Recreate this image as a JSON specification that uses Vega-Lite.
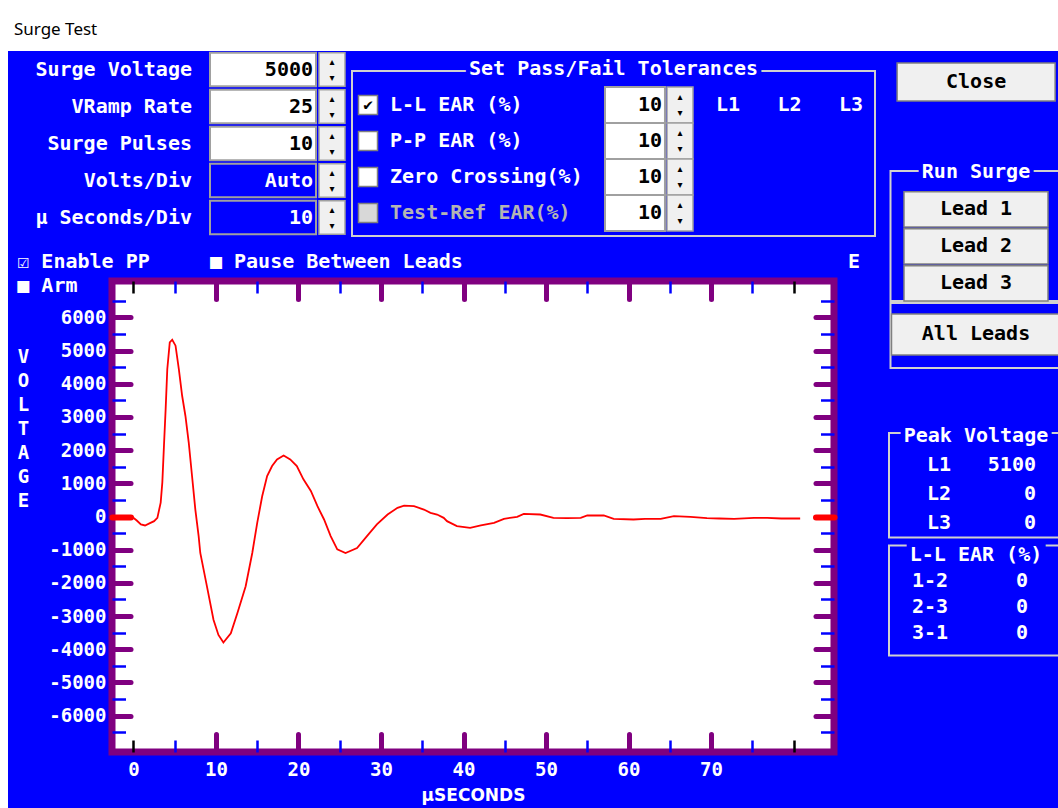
{
  "$schema": "https://vega.github.io/schema/vega-lite/v6.json",
  "background": "#0000FF",
  "padding": 0,
  "config": {
    "view": {"stroke": null},
    "axis": {"grid": false, "domain": false},
    "text": {"font": "DejaVu Sans Mono", "fontWeight": "bold", "fontSize": 20, "baseline": "middle"},
    "title": {"font": "DejaVu Sans Mono", "fontWeight": "bold", "fontSize": 20, "color": "white"}
  },
  "datasets": {
    "wave": [
      {"t": -0.2, "v": 0}, {"t": 0.4, "v": -120}, {"t": 0.9, "v": -240}, {"t": 1.4, "v": -270},
      {"t": 2.0, "v": -200}, {"t": 2.5, "v": -140}, {"t": 2.9, "v": -40}, {"t": 3.3, "v": 420},
      {"t": 3.5, "v": 1030}, {"t": 3.7, "v": 2150}, {"t": 3.9, "v": 3230}, {"t": 4.1, "v": 4440},
      {"t": 4.4, "v": 5250}, {"t": 4.7, "v": 5330}, {"t": 5.1, "v": 5150}, {"t": 5.5, "v": 4440},
      {"t": 5.9, "v": 3640}, {"t": 6.3, "v": 3030}, {"t": 6.7, "v": 2230}, {"t": 7.1, "v": 1220},
      {"t": 7.5, "v": 210}, {"t": 7.9, "v": -590}, {"t": 8.1, "v": -1100}, {"t": 8.9, "v": -2100},
      {"t": 9.7, "v": -3110}, {"t": 10.3, "v": -3570}, {"t": 10.9, "v": -3800}, {"t": 11.8, "v": -3520},
      {"t": 12.6, "v": -2910}, {"t": 13.6, "v": -2100}, {"t": 14.4, "v": -1100}, {"t": 15.0, "v": -190},
      {"t": 15.6, "v": 610}, {"t": 16.2, "v": 1220}, {"t": 16.8, "v": 1520}, {"t": 17.4, "v": 1720},
      {"t": 18.2, "v": 1840}, {"t": 19.0, "v": 1720}, {"t": 19.8, "v": 1520}, {"t": 20.6, "v": 1120},
      {"t": 21.5, "v": 770}, {"t": 22.3, "v": 310}, {"t": 23.1, "v": -90}, {"t": 23.9, "v": -590},
      {"t": 24.7, "v": -990}, {"t": 25.7, "v": -1100}, {"t": 27.1, "v": -950}, {"t": 28.3, "v": -590},
      {"t": 29.5, "v": -240}, {"t": 30.8, "v": 60}, {"t": 32.0, "v": 260}, {"t": 32.8, "v": 330},
      {"t": 34.0, "v": 310}, {"t": 35.2, "v": 210}, {"t": 36.0, "v": 110}, {"t": 36.8, "v": 60},
      {"t": 37.6, "v": -40}, {"t": 38.0, "v": -140}, {"t": 39.2, "v": -290}, {"t": 40.8, "v": -340},
      {"t": 42.1, "v": -270}, {"t": 43.7, "v": -190}, {"t": 44.9, "v": -70}, {"t": 46.5, "v": -10},
      {"t": 47.3, "v": 80}, {"t": 49.3, "v": 60}, {"t": 50.9, "v": -40}, {"t": 52.5, "v": -50},
      {"t": 54.2, "v": -40}, {"t": 55.0, "v": 30}, {"t": 57.0, "v": 30}, {"t": 58.2, "v": -70},
      {"t": 60.6, "v": -90}, {"t": 62.0, "v": -70}, {"t": 63.9, "v": -70}, {"t": 65.5, "v": 10},
      {"t": 67.5, "v": -10}, {"t": 69.5, "v": -50}, {"t": 71.0, "v": -60}, {"t": 72.8, "v": -70},
      {"t": 75.2, "v": -40}, {"t": 76.8, "v": -40}, {"t": 78.5, "v": -60}, {"t": 80.8, "v": -60}
    ],
    "settings": [
      {"param": "Surge Voltage", "value": "5000", "mode": "manual"},
      {"param": "VRamp Rate", "value": "25", "mode": "manual"},
      {"param": "Surge Pulses", "value": "10", "mode": "manual"},
      {"param": "Volts/Div", "value": "Auto", "mode": "auto"},
      {"param": "µ Seconds/Div", "value": "10", "mode": "auto"}
    ],
    "tol": [
      {"row": "L-L EAR (%)", "checked": true, "enabled": true, "tol": "10"},
      {"row": "P-P EAR (%)", "checked": false, "enabled": true, "tol": "10"},
      {"row": "Zero Crossing(%)", "checked": false, "enabled": true, "tol": "10"},
      {"row": "Test-Ref EAR(%)", "checked": false, "enabled": false, "tol": "10"}
    ],
    "leads": [{"lead": "L1"}, {"lead": "L2"}, {"lead": "L3"}],
    "surge": [
      {"item": "Run Surge", "kind": "title"},
      {"item": "Lead 1", "kind": "button"},
      {"item": "Lead 2", "kind": "button"},
      {"item": "Lead 3", "kind": "button"}
    ],
    "peak": [
      {"row": "Peak Voltage", "kind": "title", "val": ""},
      {"row": "L1", "kind": "item", "val": "5100"},
      {"row": "L2", "kind": "item", "val": "0"},
      {"row": "L3", "kind": "item", "val": "0"}
    ],
    "ear": [
      {"row": "L-L EAR (%)", "kind": "title", "val": ""},
      {"row": "1-2", "kind": "item", "val": "0"},
      {"row": "2-3", "kind": "item", "val": "0"},
      {"row": "3-1", "kind": "item", "val": "0"}
    ]
  },
  "spacing": 0,
  "vconcat": [
    {
      "width": 1058, "height": 51,
      "view": {"fill": "white", "stroke": null},
      "data": {"values": [{"t": "Surge Test"}]},
      "mark": {"type": "text", "align": "left", "baseline": "middle", "font": "Noto Sans", "fontWeight": "normal", "fontSize": 17, "color": "black", "dy": 4},
      "encoding": {
        "text": {"field": "t"},
        "x": {"field": "t", "type": "nominal", "axis": null, "scale": {"type": "point", "align": 0.0132}}
      }
    },
    {
      "spacing": 4,
      "hconcat": [
        {
          "width": 8, "height": 757,
          "view": {"fill": "white", "stroke": null},
          "data": {"values": []},
          "mark": {"type": "rect", "fill": "white"}
        },
        {
          "spacing": 12,
          "hconcat": [
            {
              "spacing": 11,
              "vconcat": [
                {
                  "spacing": 5,
                  "hconcat": [
                    {
                      "spacing": 17,
                      "hconcat": [
                        {
                          "width": 180, "height": 185,
                          "data": {"name": "settings"},
                          "mark": {"type": "text", "align": "right", "color": "white"},
                          "encoding": {
                            "y": {"field": "param", "type": "nominal", "sort": null, "axis": null, "scale": {"type": "band", "paddingInner": 0.1, "paddingOuter": 0.05}},
                            "x": {"datum": "c", "type": "nominal", "axis": null, "scale": {"type": "point", "align": 1}},
                            "text": {"field": "param"}
                          }
                        },
                        {
                          "spacing": 1,
                          "hconcat": [
                            {
                              "width": 106, "height": 185,
                              "data": {"name": "settings"},
                              "encoding": {
                                "y": {"field": "param", "type": "nominal", "sort": null, "axis": null, "scale": {"type": "band", "paddingInner": 0.1, "paddingOuter": 0.05}}
                              },
                              "layer": [
                                {
                                  "mark": {"type": "rect", "stroke": "#A0A0A0", "strokeWidth": 2},
                                  "encoding": {"fill": {"condition": {"test": "datum.mode === 'auto'", "value": "#0000FF"}, "value": "white"}}
                                },
                                {
                                  "mark": {"type": "text", "align": "right"},
                                  "encoding": {
                                    "x": {"datum": "c", "type": "nominal", "axis": null, "scale": {"type": "point", "align": 0.972}},
                                    "text": {"field": "value"},
                                    "color": {"condition": {"test": "datum.mode === 'auto'", "value": "white"}, "value": "black"}
                                  }
                                }
                              ]
                            },
                            {
                              "width": 26, "height": 185,
                              "data": {"name": "settings"},
                              "encoding": {
                                "y": {"field": "param", "type": "nominal", "sort": null, "axis": null, "scale": {"type": "band", "paddingInner": 0.1, "paddingOuter": 0.05}}
                              },
                              "layer": [
                                {"mark": {"type": "rect", "fill": "#F0F0F0", "stroke": "#A0A0A0", "strokeWidth": 1.5}},
                                {"mark": {"type": "text", "text": "▴", "font": "DejaVu Sans", "fontSize": 10, "color": "black", "dy": -8}},
                                {"mark": {"type": "text", "text": "▾", "font": "DejaVu Sans", "fontSize": 10, "color": "black", "dy": 8}}
                              ]
                            }
                          ]
                        }
                      ]
                    },
                    {
                      "width": 523, "height": 185,
                      "data": {"name": "tol"},
                      "encoding": {
                        "y": {"field": "row", "type": "nominal", "axis": null,
                          "scale": {"type": "band", "domain": ["Set Pass/Fail Tolerances", "L-L EAR (%)", "P-P EAR (%)", "Zero Crossing(%)", "Test-Ref EAR(%)"], "paddingInner": 0, "paddingOuter": 0.069, "align": 0}}
                      },
                      "layer": [
                        {
                          "data": {"values": [{"frame": "tolerances"}]},
                          "mark": {"type": "rect", "fillOpacity": 0, "stroke": "#D0D0D0", "strokeWidth": 2},
                          "encoding": {"y": {"field": "frame", "type": "nominal", "axis": null, "scale": {"type": "band", "paddingInner": 0, "paddingOuter": 0.0606, "align": 1}}}
                        },
                        {
                          "data": {"values": [{"row": "Set Pass/Fail Tolerances"}]},
                          "mark": {"type": "text", "text": "████████████████████████", "color": "#0000FF", "stroke": "#0000FF", "strokeWidth": 6}
                        },
                        {
                          "data": {"values": [{"row": "Set Pass/Fail Tolerances"}]},
                          "mark": {"type": "text", "color": "white"},
                          "encoding": {"text": {"field": "row"}}
                        },
                        {
                          "mark": {"type": "point", "shape": "square", "size": 361, "filled": true, "stroke": "#808080", "strokeWidth": 1.5, "opacity": 1},
                          "encoding": {
                            "x": {"datum": "box", "type": "nominal", "axis": null, "scale": {"type": "point", "align": 0.0306}},
                            "fill": {"condition": {"test": "datum.enabled", "value": "white"}, "value": "#D8D8D8"}
                          }
                        },
                        {
                          "transform": [{"filter": "datum.checked"}],
                          "mark": {"type": "text", "text": "✔", "fontSize": 16, "color": "black"},
                          "encoding": {
                            "x": {"datum": "box", "type": "nominal", "axis": null, "scale": {"type": "point", "align": 0.0306}}
                          }
                        },
                        {
                          "mark": {"type": "text", "align": "left"},
                          "encoding": {
                            "x": {"datum": "lab", "type": "nominal", "axis": null, "scale": {"type": "point", "align": 0.0727}},
                            "text": {"field": "row"},
                            "color": {"condition": {"test": "datum.enabled", "value": "white"}, "value": "#B4B4B4"}
                          }
                        },
                        {
                          "mark": {"type": "rect", "fill": "white", "stroke": "#A0A0A0", "strokeWidth": 2},
                          "encoding": {
                            "x": {"datum": "box", "type": "nominal", "axis": null, "scale": {"type": "band", "paddingInner": 0.741, "paddingOuter": 1, "align": 0.5464}}
                          }
                        },
                        {
                          "mark": {"type": "rect", "fill": "#F0F0F0", "stroke": "#A0A0A0", "strokeWidth": 1.5},
                          "encoding": {
                            "x": {"datum": "spin", "type": "nominal", "axis": null, "scale": {"type": "band", "paddingInner": 0.8954, "paddingOuter": 1, "align": 0.6338}}
                          }
                        },
                        {
                          "mark": {"type": "text", "text": "▴", "font": "DejaVu Sans", "fontSize": 10, "color": "black", "dy": -8},
                          "encoding": {
                            "x": {"datum": "spin", "type": "nominal", "axis": null, "scale": {"type": "point", "align": 0.627}}
                          }
                        },
                        {
                          "mark": {"type": "text", "text": "▾", "font": "DejaVu Sans", "fontSize": 10, "color": "black", "dy": 8},
                          "encoding": {
                            "x": {"datum": "spin", "type": "nominal", "axis": null, "scale": {"type": "point", "align": 0.627}}
                          }
                        },
                        {
                          "mark": {"type": "text", "align": "right", "color": "black"},
                          "encoding": {
                            "x": {"datum": "val", "type": "nominal", "axis": null, "scale": {"type": "point", "align": 0.5927}},
                            "text": {"field": "tol"}
                          }
                        },
                        {
                          "data": {"name": "leads"},
                          "transform": [{"filter": "datum.lead === 'L1'"}],
                          "mark": {"type": "text", "color": "white"},
                          "encoding": {
                            "x": {"field": "lead", "type": "nominal", "axis": null, "scale": {"type": "point", "align": 0.719}},
                            "y": {"datum": "L-L EAR (%)", "type": "nominal", "axis": null, "scale": {"type": "band", "domain": ["Set Pass/Fail Tolerances", "L-L EAR (%)", "P-P EAR (%)", "Zero Crossing(%)", "Test-Ref EAR(%)"], "paddingInner": 0, "paddingOuter": 0.069, "align": 0}},
                            "text": {"field": "lead"}
                          }
                        },
                        {
                          "data": {"name": "leads"},
                          "transform": [{"filter": "datum.lead === 'L2'"}],
                          "mark": {"type": "text", "color": "white"},
                          "encoding": {
                            "x": {"field": "lead", "type": "nominal", "axis": null, "scale": {"type": "point", "align": 0.8365}},
                            "y": {"datum": "L-L EAR (%)", "type": "nominal", "axis": null, "scale": {"type": "band", "domain": ["Set Pass/Fail Tolerances", "L-L EAR (%)", "P-P EAR (%)", "Zero Crossing(%)", "Test-Ref EAR(%)"], "paddingInner": 0, "paddingOuter": 0.069, "align": 0}},
                            "text": {"field": "lead"}
                          }
                        },
                        {
                          "data": {"name": "leads"},
                          "transform": [{"filter": "datum.lead === 'L3'"}],
                          "mark": {"type": "text", "color": "white"},
                          "encoding": {
                            "x": {"field": "lead", "type": "nominal", "axis": null, "scale": {"type": "point", "align": 0.954}},
                            "y": {"datum": "L-L EAR (%)", "type": "nominal", "axis": null, "scale": {"type": "band", "domain": ["Set Pass/Fail Tolerances", "L-L EAR (%)", "P-P EAR (%)", "Zero Crossing(%)", "Test-Ref EAR(%)"], "paddingInner": 0, "paddingOuter": 0.069, "align": 0}},
                            "text": {"field": "lead"}
                          }
                        }
                      ],
                      "resolve": {"scale": {"x": "independent", "y": "independent"}}
                    }
                  ]
                },
                {
                  "spacing": 0,
                  "hconcat": [
                    {
                      "width": 1, "height": 1,
                      "data": {"values": []},
                      "mark": {"type": "rect", "fill": "#0000FF"}
                    },
                    {
                      "width": 722, "height": 471,
                      "view": {"fill": "white", "stroke": "#800080", "strokeWidth": 7},
                      "title": {
                        "text": ["☑ Enable PP\u00a0\u00a0\u00a0\u00a0\u00a0■ Pause Between Leads\u00a0\u00a0\u00a0\u00a0\u00a0\u00a0\u00a0\u00a0\u00a0\u00a0\u00a0\u00a0\u00a0\u00a0\u00a0\u00a0\u00a0\u00a0\u00a0\u00a0\u00a0\u00a0\u00a0\u00a0\u00a0\u00a0\u00a0\u00a0\u00a0\u00a0\u00a0\u00a0E", "■ Arm"],
                        "anchor": "start", "frame": "bounds", "offset": -17, "lineHeight": 24,
                        "font": "DejaVu Sans Mono", "fontSize": 20, "fontWeight": "bold", "color": "white"
                      },
                      "data": {"name": "wave"},
                      "layer": [
                        {
                          "mark": {"type": "line", "color": "#FF0000", "strokeWidth": 1.8},
                          "encoding": {
                            "x": {"field": "t", "type": "quantitative", "scale": {"domain": [-2.6, 84.9], "nice": false, "zero": false},
                              "axis": {"orient": "bottom", "values": [0, 10, 20, 30, 40, 50, 60, 70], "ticks": false, "domain": false, "labelPadding": 8, "labelFlush": false, "labelOverlap": false,
                                "labelFont": "DejaVu Sans Mono", "labelFontWeight": "bold", "labelFontSize": 19, "labelColor": "white", "labelExpr": "'' + datum.value", "labelBaseline": "top",
                                "title": "µSECONDS", "titleFont": "DejaVu Sans", "titleFontWeight": "bold", "titleFontSize": 17, "titleColor": "white", "titleBaseline": "top", "titleY": 35}},
                            "y": {"field": "v", "type": "quantitative", "scale": {"domain": [-7100, 7100], "nice": false, "zero": false},
                              "axis": {"orient": "left", "values": [-6000, -5000, -4000, -3000, -2000, -1000, 0, 1000, 2000, 3000, 4000, 5000, 6000], "ticks": false, "domain": false, "labelPadding": 6, "labelFlush": false, "labelOverlap": false,
                                "labelFont": "DejaVu Sans Mono", "labelFontWeight": "bold", "labelFontSize": 19, "labelColor": "white", "labelExpr": "'' + datum.value",
                                "title": ["V", "O", "L", "T", "A", "G", "E"], "titleAngle": 0, "titleAlign": "center", "titleBaseline": "top", "titleX": -89, "titleY": 66, "titleLineHeight": 24,
                                "titleFont": "DejaVu Sans Mono", "titleFontWeight": "bold", "titleFontSize": 19, "titleColor": "white"}}
                          }
                        },
                        {
                          "mark": {"type": "line", "opacity": 0},
                          "encoding": {
                            "x": {"field": "t", "type": "quantitative", "axis": {"orient": "top", "values": [10, 20, 30, 40, 50, 60, 70], "labels": false, "domain": false, "tickSize": -18, "tickWidth": 5, "tickColor": "#800080", "tickCap": "round", "title": null}},
                            "y": {"field": "v", "type": "quantitative", "axis": {"orient": "right", "values": [-6000, -5000, -4000, -3000, -2000, -1000, 0, 1000, 2000, 3000, 4000, 5000, 6000], "labels": false, "domain": false, "tickSize": -18.5, "tickCap": "round",
                              "tickWidth": {"condition": {"test": "datum.value === 0", "value": 6}, "value": 5},
                              "tickColor": {"condition": {"test": "datum.value === 0", "value": "#FF0000"}, "value": "#800080"}, "title": null}}
                          }
                        },
                        {
                          "mark": {"type": "line", "opacity": 0},
                          "encoding": {
                            "x": {"field": "t", "type": "quantitative", "axis": {"orient": "bottom", "values": [10, 20, 30, 40, 50, 60, 70], "labels": false, "domain": false, "tickSize": -18, "tickWidth": 5, "tickColor": "#800080", "tickCap": "round", "title": null}},
                            "y": {"field": "v", "type": "quantitative", "axis": {"orient": "left", "values": [-6000, -5000, -4000, -3000, -2000, -1000, 0, 1000, 2000, 3000, 4000, 5000, 6000], "labels": false, "domain": false, "tickSize": -18.5, "tickCap": "round",
                              "tickWidth": {"condition": {"test": "datum.value === 0", "value": 6}, "value": 5},
                              "tickColor": {"condition": {"test": "datum.value === 0", "value": "#FF0000"}, "value": "#800080"}, "title": null}}
                          }
                        },
                        {
                          "mark": {"type": "line", "opacity": 0},
                          "encoding": {
                            "x": {"field": "t", "type": "quantitative", "axis": {"orient": "top", "values": [0, 5, 15, 25, 35, 45, 55, 65, 75, 80], "labels": false, "domain": false, "tickSize": -12, "tickWidth": 2.5,
                              "tickColor": {"condition": {"test": "datum.value === 0 || datum.value === 80", "value": "black"}, "value": "#0000FF"}, "title": null}},
                            "y": {"field": "v", "type": "quantitative", "axis": {"orient": "right", "values": [-6500, -5500, -4500, -3500, -2500, -1500, -500, 500, 1500, 2500, 3500, 4500, 5500, 6500], "labels": false, "domain": false, "tickSize": -13.5, "tickWidth": 2.5, "tickColor": "#0000FF", "title": null}}
                          }
                        },
                        {
                          "mark": {"type": "line", "opacity": 0},
                          "encoding": {
                            "x": {"field": "t", "type": "quantitative", "axis": {"orient": "bottom", "values": [0, 5, 15, 25, 35, 45, 55, 65, 75, 80], "labels": false, "domain": false, "tickSize": -12, "tickWidth": 2.5,
                              "tickColor": {"condition": {"test": "datum.value === 0 || datum.value === 80", "value": "black"}, "value": "#0000FF"}, "title": null}},
                            "y": {"field": "v", "type": "quantitative", "axis": {"orient": "left", "values": [-6500, -5500, -4500, -3500, -2500, -1500, -500, 500, 1500, 2500, 3500, 4500, 5500, 6500], "labels": false, "domain": false, "tickSize": -13.5, "tickWidth": 2.5, "tickColor": "#0000FF", "title": null}}
                          }
                        }
                      ],
                      "resolve": {"axis": {"x": "independent", "y": "independent"}}
                    }
                  ]
                }
              ]
            },
            {
              "spacing": 0,
              "center": true,
              "vconcat": [
                {
                  "width": 158, "height": 50,
                  "data": {"values": [{"btn": "Close"}]},
                  "encoding": {"y": {"field": "btn", "type": "nominal", "axis": null, "scale": {"type": "band", "paddingInner": 0, "paddingOuter": 0.16, "align": 1}}},
                  "layer": [
                    {"mark": {"type": "rect", "fill": "#F0F0F0", "stroke": "#808080", "strokeWidth": 1.5}},
                    {"mark": {"type": "text", "color": "black"}, "encoding": {"text": {"field": "btn"}}}
                  ]
                },
                {
                  "width": 171, "height": 199,
                  "data": {"name": "surge"},
                  "encoding": {"y": {"field": "item", "type": "nominal", "axis": null, "scale": {"type": "band", "domain": ["Run Surge", "Lead 1", "Lead 2", "Lead 3"], "paddingInner": 0.05, "paddingOuter": 0.714, "align": 1}}},
                  "layer": [
                    {
                      "data": {"values": [{"frame": "run surge"}]},
                      "mark": {"type": "rect", "fillOpacity": 0, "stroke": "#D0D0D0", "strokeWidth": 2},
                      "encoding": {"y": {"field": "frame", "type": "nominal", "axis": null, "scale": {"type": "band", "paddingInner": 0, "paddingOuter": 0.2654, "align": 1}}}
                    },
                    {"transform": [{"filter": "datum.kind === 'button'"}], "mark": {"type": "rect", "fill": "#F0F0F0", "stroke": "#808080", "strokeWidth": 1.5},
                      "encoding": {"x": {"datum": "btn", "type": "nominal", "axis": null, "scale": {"type": "band", "paddingInner": 0, "paddingOuter": 0.0938, "align": 0.5}}}},
                    {"transform": [{"filter": "datum.kind === 'title'"}], "mark": {"type": "text", "text": "█████████", "color": "#0000FF", "stroke": "#0000FF", "strokeWidth": 6}},
                    {"mark": {"type": "text"}, "encoding": {"text": {"field": "item"}, "color": {"condition": {"test": "datum.kind === 'title'", "value": "white"}, "value": "black"}}}
                  ],
                  "resolve": {"scale": {"y": "independent"}}
                },
                {
                  "width": 171, "height": 65,
                  "data": {"values": [{"btn": "All Leads"}]},
                  "layer": [
                    {"mark": {"type": "rect", "fillOpacity": 0, "stroke": "#D0D0D0", "strokeWidth": 2}},
                    {"mark": {"type": "rect", "fill": "#F0F0F0", "stroke": "#808080", "strokeWidth": 1.5},
                      "encoding": {
                        "y": {"field": "btn", "type": "nominal", "axis": null, "scale": {"type": "band", "paddingInner": 0, "paddingOuter": 0.2927, "align": 0.4583}},
                        "x": {"datum": "btn", "type": "nominal", "axis": null, "scale": {"type": "band", "paddingInner": 0, "paddingOuter": 0.0059, "align": 0.5}}}},
                    {"mark": {"type": "text", "color": "black"},
                      "encoding": {
                        "y": {"field": "btn", "type": "nominal", "axis": null, "scale": {"type": "band", "paddingInner": 0, "paddingOuter": 0.2927, "align": 0.4583}},
                        "text": {"field": "btn"}}}
                  ]
                },
                {
                  "width": 174, "height": 168.5,
                  "data": {"name": "peak"},
                  "encoding": {"y": {"field": "row", "type": "nominal", "axis": null, "scale": {"type": "band", "domain": ["Peak Voltage", "L1", "L2", "L3"], "paddingInner": 0, "paddingOuter": 0.905, "align": 1}}},
                  "layer": [
                    {
                      "data": {"values": [{"frame": "peak"}]},
                      "mark": {"type": "rect", "fillOpacity": 0, "stroke": "#D0D0D0", "strokeWidth": 2},
                      "encoding": {"y": {"field": "frame", "type": "nominal", "axis": null, "scale": {"type": "band", "paddingInner": 0, "paddingOuter": 0.306, "align": 1}}}
                    },
                    {"transform": [{"filter": "datum.kind === 'title'"}], "mark": {"type": "text", "text": "████████████", "color": "#0000FF", "stroke": "#0000FF", "strokeWidth": 6}},
                    {"transform": [{"filter": "datum.kind === 'title'"}], "mark": {"type": "text", "color": "white"}, "encoding": {"text": {"field": "row"}}},
                    {"transform": [{"filter": "datum.kind === 'item'"}], "mark": {"type": "text", "color": "white", "align": "center"},
                      "encoding": {"x": {"datum": "label", "type": "nominal", "axis": null, "scale": {"type": "point", "domain": ["label", "value"], "padding": 0.397, "align": 0.649}}, "text": {"field": "row"}}},
                    {"transform": [{"filter": "datum.kind === 'item'"}], "mark": {"type": "text", "color": "white", "align": "right"},
                      "encoding": {"x": {"datum": "value", "type": "nominal", "axis": null, "scale": {"type": "point", "domain": ["label", "value"], "padding": 0.397, "align": 0.649}}, "text": {"field": "val"}}}
                  ],
                  "resolve": {"scale": {"y": "independent"}}
                },
                {
                  "width": 174, "height": 118,
                  "data": {"name": "ear"},
                  "encoding": {"y": {"field": "row", "type": "nominal", "axis": null, "scale": {"type": "band", "domain": ["L-L EAR (%)", "1-2", "2-3", "3-1"], "paddingInner": 0, "paddingOuter": 0.269, "align": 0.18}}},
                  "layer": [
                    {
                      "data": {"values": [{"frame": "ear"}]},
                      "mark": {"type": "rect", "fillOpacity": 0, "stroke": "#D0D0D0", "strokeWidth": 2},
                      "encoding": {"y": {"field": "frame", "type": "nominal", "axis": null, "scale": {"type": "band", "paddingInner": 0, "paddingOuter": 0.0364, "align": 0.8125}}}
                    },
                    {"transform": [{"filter": "datum.kind === 'title'"}], "mark": {"type": "text", "text": "███████████", "color": "#0000FF", "stroke": "#0000FF", "strokeWidth": 6}},
                    {"transform": [{"filter": "datum.kind === 'title'"}], "mark": {"type": "text", "color": "white"}, "encoding": {"text": {"field": "row"}}},
                    {"transform": [{"filter": "datum.kind === 'item'"}], "mark": {"type": "text", "color": "white", "align": "center"},
                      "encoding": {"x": {"datum": "label", "type": "nominal", "axis": null, "scale": {"type": "point", "domain": ["label", "value"], "padding": 0.388, "align": 0.539}}, "text": {"field": "row"}}},
                    {"transform": [{"filter": "datum.kind === 'item'"}], "mark": {"type": "text", "color": "white", "align": "right"},
                      "encoding": {"x": {"datum": "value", "type": "nominal", "axis": null, "scale": {"type": "point", "domain": ["label", "value"], "padding": 0.388, "align": 0.539}}, "text": {"field": "val"}}}
                  ],
                  "resolve": {"scale": {"y": "independent"}}
                }
              ]
            }
          ]
        }
      ]
    }
  ]
}
